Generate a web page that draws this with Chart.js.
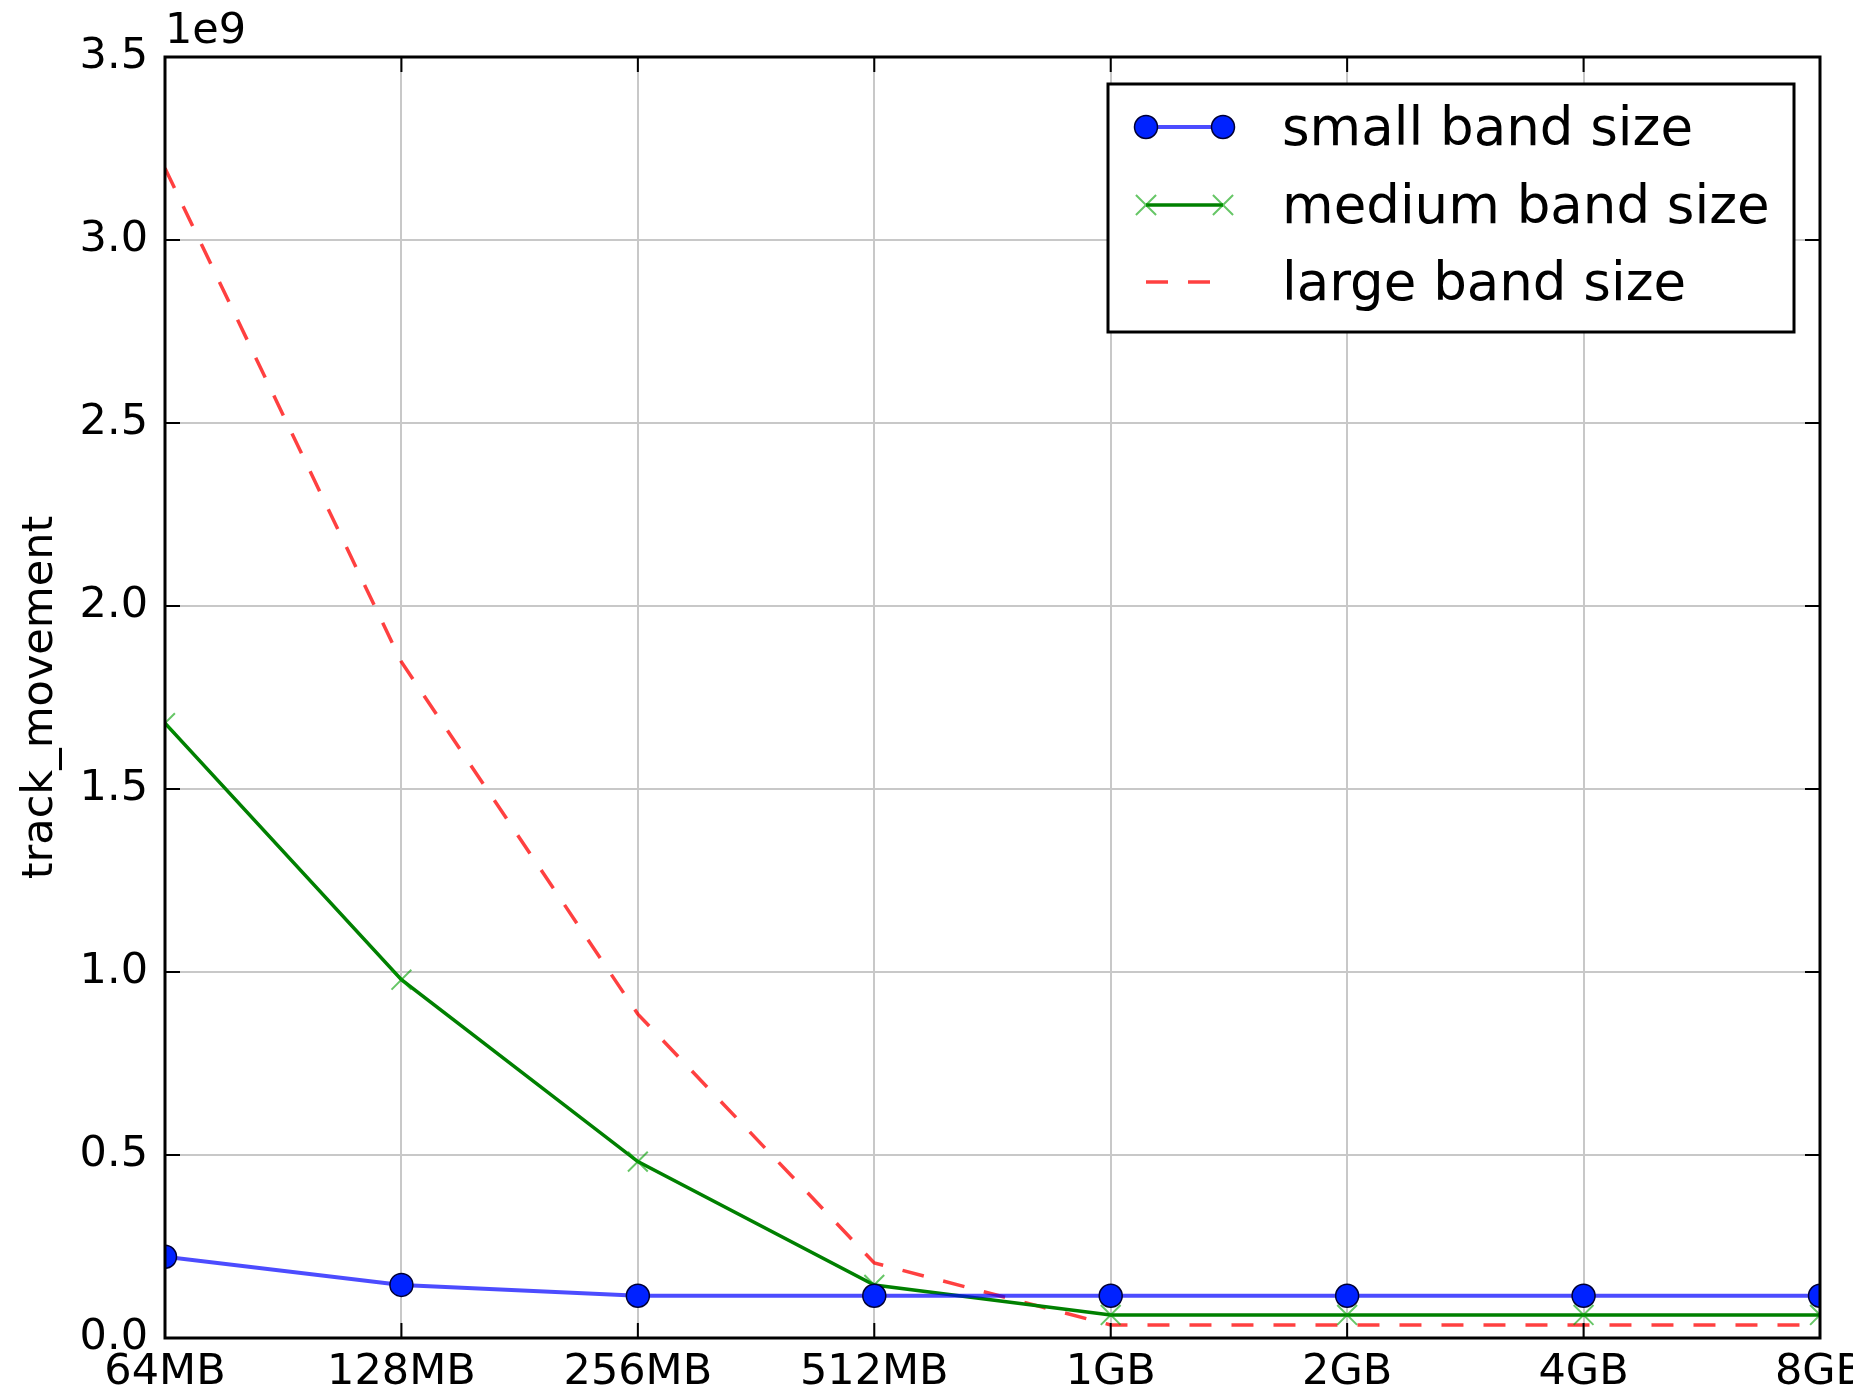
<!DOCTYPE html>
<html>
<head>
<meta charset="utf-8">
<script src="https://cdn.jsdelivr.net/npm/chart.js@4"></script>
<style>
  html, body { margin: 0; padding: 0; background: #fff; }
  #wrap { width: 1853px; height: 1391px; }
</style>
</head>
<body>
<div id="wrap"><canvas id="chart_div"></canvas></div>
<script>
const sizeLabels = ['64MB', '128MB', '256MB', '512MB', '1GB', '2GB', '4GB', '8GB'];
const smallBand = [0.222e9, 0.145e9, 0.1155e9, 0.1155e9, 0.1155e9, 0.1155e9, 0.1155e9, 0.1155e9];
const mediumBand = [1.680e9, 0.979e9, 0.482e9, 0.145e9, 0.063e9, 0.063e9, 0.063e9, 0.063e9];
const largeBand = [3.196e9, 1.847e9, 0.885e9, 0.205e9, 0.0355e9, 0.0355e9, 0.0355e9, 0.0355e9];
const yMax = 3.5e9;
const yStep = 0.5e9;

const FONT = "'DejaVu Sans'";
const blue = 'rgba(0, 0, 255, 0.7)';
const green = '#008000';
const red = 'rgba(255, 0, 0, 0.75)';

// matplotlib style: box around the axes, inward ticks on all sides, offset text, legend box
const mplFrame = {
  id: 'mplFrame',
  afterDraw(chart) {
    const ctx = chart.ctx;
    const a = chart.chartArea;
    const xs = chart.scales.x, ys = chart.scales.y;
    ctx.save();
    ctx.strokeStyle = '#000';
    ctx.lineWidth = 2;
    ctx.beginPath();
    xs.ticks.forEach((t, i) => {
      const px = xs.getPixelForTick(i);
      ctx.moveTo(px, a.bottom); ctx.lineTo(px, a.bottom - 15);
      ctx.moveTo(px, a.top); ctx.lineTo(px, a.top + 15);
    });
    ys.ticks.forEach((t, i) => {
      const py = ys.getPixelForTick(i);
      ctx.moveTo(a.left, py); ctx.lineTo(a.left + 15, py);
      ctx.moveTo(a.right, py); ctx.lineTo(a.right - 15, py);
    });
    ctx.stroke();
    ctx.lineWidth = 3;
    ctx.strokeRect(a.left, a.top, a.right - a.left, a.bottom - a.top);

    ctx.fillStyle = '#000';
    ctx.font = '43px ' + FONT;
    ctx.textAlign = 'left';
    ctx.textBaseline = 'alphabetic';
    ctx.fillText('1e9', a.left, 43);

    // legend
    const bx = 1108, by = 84, bw = 686, bh = 248;
    ctx.fillStyle = '#fff';
    ctx.fillRect(bx, by, bw, bh);
    ctx.lineWidth = 3;
    ctx.strokeStyle = '#000';
    ctx.strokeRect(bx, by, bw, bh);
    const rows = [127, 205, 282];
    const x0 = 1146, x1 = 1223;
    chart.data.datasets.forEach((ds, i) => {
      const y = rows[i];
      ctx.save();
      ctx.strokeStyle = ds.borderColor;
      ctx.lineWidth = ds.borderWidth;
      ctx.setLineDash(ds.borderDash || []);
      ctx.beginPath();
      ctx.moveTo(x0, y); ctx.lineTo(x1, y);
      ctx.stroke();
      ctx.restore();
      if (ds.pointStyle === 'circle') {
        [x0, x1].forEach(px => {
          ctx.beginPath();
          ctx.arc(px, y, ds.pointRadius, 0, Math.PI * 2);
          ctx.fillStyle = ds.pointBackgroundColor;
          ctx.fill();
          ctx.lineWidth = ds.pointBorderWidth;
          ctx.strokeStyle = ds.pointBorderColor;
          ctx.stroke();
        });
      } else if (ds.pointStyle === 'crossRot') {
        const r = ds.pointRadius * 0.72;
        ctx.strokeStyle = ds.pointBorderColor;
        ctx.lineWidth = ds.pointBorderWidth;
        [x0, x1].forEach(px => {
          ctx.beginPath();
          ctx.moveTo(px - r, y - r); ctx.lineTo(px + r, y + r);
          ctx.moveTo(px - r, y + r); ctx.lineTo(px + r, y - r);
          ctx.stroke();
        });
      }
      ctx.fillStyle = '#000';
      ctx.font = '53px ' + FONT;
      ctx.textBaseline = 'middle';
      ctx.fillText(ds.label, 1282, y + 4);
    });
    ctx.restore();
  }
};

new Chart(document.getElementById('chart_div'), {
  type: 'line',
  data: {
    labels: sizeLabels,
    datasets: [
      {
        label: 'small band size',
        data: smallBand,
        borderColor: blue,
        borderWidth: 4,
        pointStyle: 'circle',
        pointRadius: 11.5,
        pointBackgroundColor: '#0022ff',
        pointBorderColor: '#000033',
        pointBorderWidth: 1.5,
        clip: 0
      },
      {
        label: 'medium band size',
        data: mediumBand,
        borderColor: green,
        borderWidth: 3.5,
        pointStyle: 'crossRot',
        pointRadius: 14,
        pointBorderColor: 'rgba(0, 160, 0, 0.6)',
        pointBorderWidth: 2,
        clip: 0
      },
      {
        label: 'large band size',
        data: largeBand,
        borderColor: red,
        borderWidth: 3.5,
        borderDash: [22, 20],
        pointRadius: 0,
        clip: 0
      }
    ]
  },
  options: {
    responsive: true,
    maintainAspectRatio: false,
    animation: false,
    layout: { padding: { left: 0, right: 33, top: 57, bottom: 0 } },
    plugins: {
      legend: { display: false },
      tooltip: { enabled: false }
    },
    elements: { line: { tension: 0 } },
    scales: {
      x: {
        z: 1,
        offset: false,
        grid: { color: '#c8c8c8', lineWidth: 2, drawTicks: false },
        border: { display: false },
        ticks: {
          color: '#000', padding: 9, maxRotation: 0, autoSkip: false,
          font: { family: FONT, size: 43 }
        },
        afterFit(scale) {
          scale.height = 53;
          scale.paddingLeft = 0;
          scale.paddingRight = 0;
        }
      },
      y: {
        z: 1,
        min: 0,
        max: yMax,
        grid: { color: '#c8c8c8', lineWidth: 2, drawTicks: false },
        border: { display: false },
        ticks: {
          stepSize: yStep,
          color: '#000',
          padding: 17,
          font: { family: FONT, size: 43 },
          callback: v => (v / 1e9).toFixed(1)
        },
        title: {
          display: true,
          text: 'track_movement',
          color: '#000',
          padding: { top: 15, bottom: 0 },
          font: { family: FONT, size: 43 }
        },
        afterFit(scale) {
          scale.width = 165;
          scale.paddingTop = 0;
          scale.paddingBottom = 0;
        }
      }
    }
  },
  plugins: [mplFrame]
});
</script>
</body>
</html>
